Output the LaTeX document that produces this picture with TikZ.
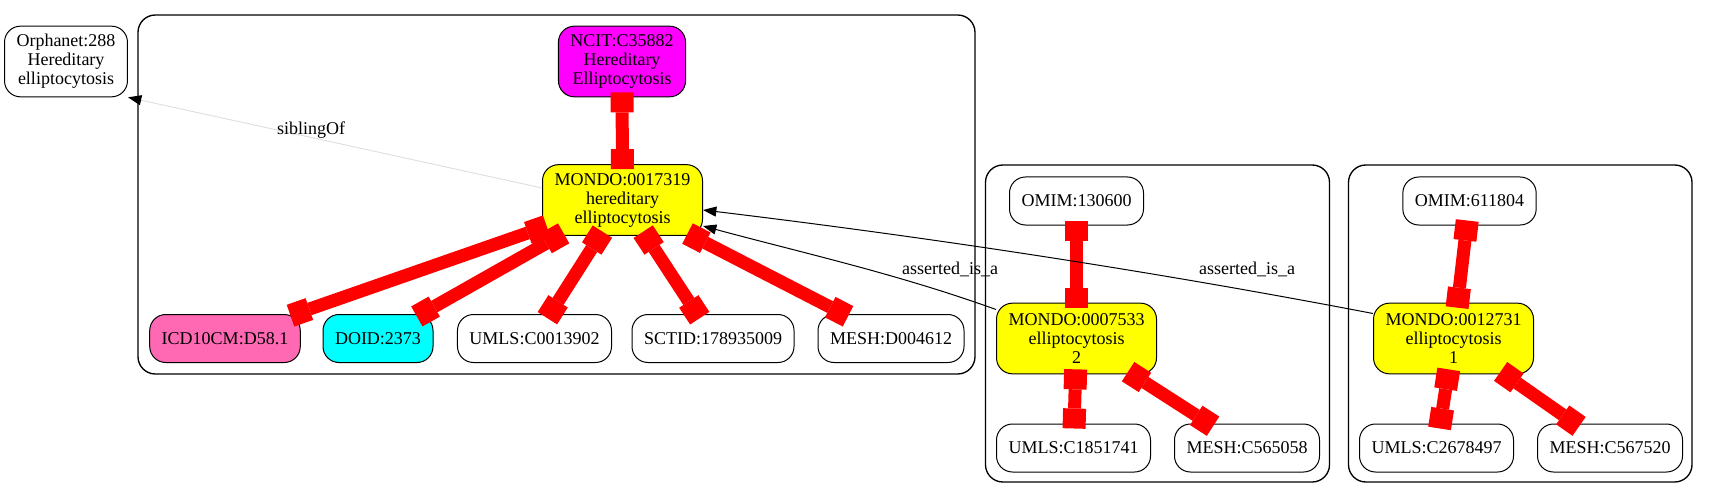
\documentclass[tikz,border=0pt]{standalone}
\usepackage{fontspec}
\setmainfont{Liberation Serif}
\usepackage{tikz}
\usetikzlibrary{positioning, calc, arrows.meta}

\definecolor{hotpink}{RGB}{255,105,180}
\definecolor{ncitmag}{RGB}{255,0,255}
\definecolor{mondoyel}{RGB}{255,255,0}
\definecolor{doidcyan}{RGB}{0,255,255}
\definecolor{xrefred}{RGB}{255,0,0}

\begin{document}
\begin{tikzpicture}[x=0.75pt, y=-0.75pt, font=\fontsize{13.5}{14.25}\selectfont,
  term/.style={draw, rectangle, rounded corners=12pt, line width=0.75pt, align=center,
    inner xsep=9pt, inner ysep=4pt, minimum height=36pt},
  tall/.style={term, minimum height=53pt},
  xref/.style={draw=xrefred, line width=9.75pt,
    {Rectangle[length=15pt, width=17.25pt, line width=0pt]}-{Rectangle[length=15pt, width=17.25pt, line width=0pt]},
    shorten <=-3.75pt, shorten >=-3.75pt},
  isa/.style={draw=black, line width=0.75pt, -{Triangle[length=10pt, width=7.5pt]}},
  sibling/.style={draw=black!12, line width=0.75pt, -{Triangle[length=10pt, width=7.5pt, color=black]}},
  cluster/.style={draw, line width=1pt, rounded corners=13pt}]

  \useasboundingbox (0,0) rectangle (1709,499);

  % --- ক্লাস্টার বক্স (Cluster Boxes) ---
  \draw [cluster] (138,15) rectangle (975,374);
  \draw [cluster] (985.5,165) rectangle (1329.5,482);
  \draw [cluster] (1348.5,165) rectangle (1692,482);

  % বাইরের নোড (Orphanet)
  \node [tall] (orph) at (66,61.5) {Orphanet:288\\Hereditary\\elliptocytosis};

  % --- প্রথম ক্লাস্টার ---
  \node [tall, fill=ncitmag] (ncit) at (622,61.5) {NCIT:C35882\\Hereditary\\Elliptocytosis};
  \node [tall, fill=mondoyel] (mh) at (622.5,200) {MONDO:0017319\\hereditary\\elliptocytosis};

  \node [term, fill=hotpink] (icd) at (225,338.5) {ICD10CM:D58.1};
  \node [term, fill=doidcyan] (doid) at (378,338.5) {DOID:2373};
  \node [term] (umlsh) at (534.5,338.5) {UMLS:C0013902};
  \node [term] (sctid) at (713,338.5) {SCTID:178935009};
  \node [term] (meshh) at (891,338.5) {MESH:D004612};

  % --- দ্বিতীয় ক্লাস্টার ---
  \node [term] (omimb) at (1076.5,201) {OMIM:130600};
  \node [tall, fill=mondoyel] (mb) at (1076.5,338.5) {MONDO:0007533\\elliptocytosis\\2};
  \node [term] (umlsb) at (1073.5,448) {UMLS:C1851741};
  \node [term] (meshb) at (1247,448) {MESH:C565058};

  % --- তৃতীয় ক্লাস্টার ---
  \node [term] (omimc) at (1469.5,201) {OMIM:611804};
  \node [tall, fill=mondoyel] (mc) at (1453.5,338.5) {MONDO:0012731\\elliptocytosis\\1};
  \node [term] (umlsc) at (1436.5,448) {UMLS:C2678497};
  \node [term] (meshc) at (1610,448) {MESH:C567520};

  % --- লাল সংযোগ (দুই প্রান্তে ব্লক) ---
  \draw [xref] (ncit) -- (mh);
  \draw [xref] (mh) -- (icd);
  \draw [xref] (mh) -- (doid);
  \draw [xref] (mh) -- (umlsh);
  \draw [xref] (mh) -- (sctid);
  \draw [xref] (mh) -- (meshh);

  \draw [xref] (omimb) -- (mb);
  \draw [xref] (mb) -- (umlsb);
  \draw [xref] (mb) -- (meshb);

  \draw [xref] (omimc) -- (mc);
  \draw [xref] (mc) -- (umlsc);
  \draw [xref] (mc) -- (meshc);

  % --- তীর চিহ্নিত সম্পর্ক ---
  \draw [sibling] ($(mh.west)+(0,-12)$) -- (orph.south east);
  \node (sibl) at (311,130) {siblingOf};

  \draw [isa] ($(mb.west)+(0,-29)$) .. controls +(-100,-36) and +(100,27) .. ($(mh.east)+(0,26)$);
  \node (isab) at (950,269) {asserted\_is\_a};

  \draw [isa] ($(mc.west)+(0,-25)$) .. controls +(-224,-43) and +(224,27) .. ($(mh.east)+(0,10)$);
  \node (isac) at (1247,269) {asserted\_is\_a};

\end{tikzpicture}
\end{document}
